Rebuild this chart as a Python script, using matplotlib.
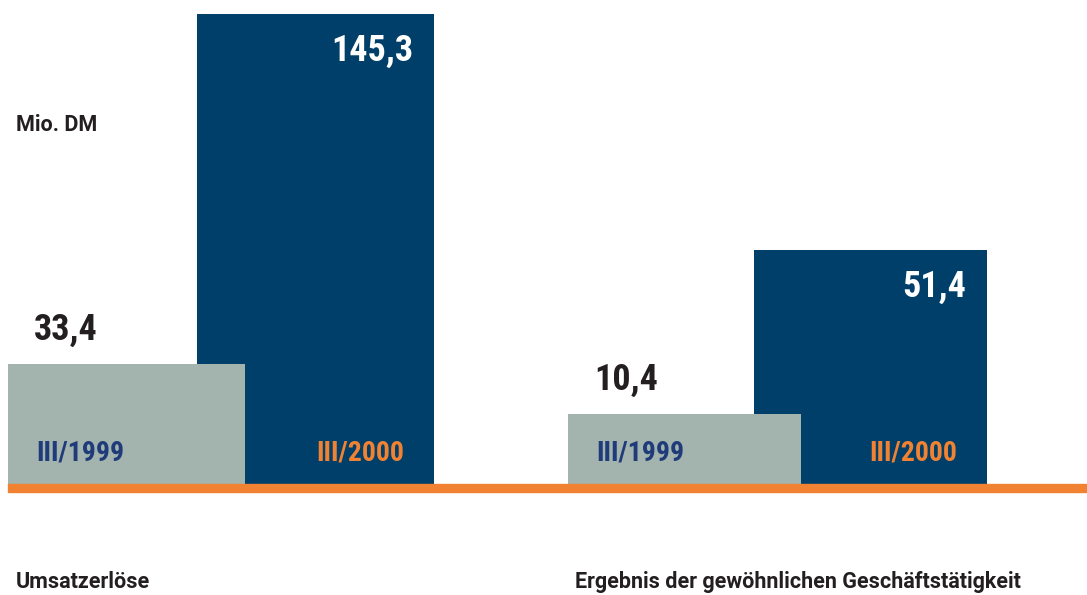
import matplotlib
matplotlib.use("Agg")
import matplotlib.pyplot as plt
from matplotlib.patches import Rectangle

# data
groups = ["Umsatzerlöse", "Ergebnis der gewöhnlichen Geschäftstätigkeit"]
periods = ["III/1999", "III/2000"]
values_1999 = [33.4, 10.4]
values_2000 = [145.3, 51.4]
unit = "Mio. DM"

# colours
grey = "#a3b3ae"
navy = "#003f69"
orange = "#f08232"
label_blue = "#1f3b7a"
dark = "#231f20"

plt.rcParams["font.family"] = ["Roboto Condensed", "DejaVu Sans"]
plt.rcParams["font.weight"] = "bold"
small_font = ["Roboto", "DejaVu Sans"]  # wider face stands in for the tracked small labels

W, H = 1087, 595
fig = plt.figure(figsize=(W / 100, H / 100), dpi=100)


def fx(x):
    return x / W


def fy(y):
    return 1 - y / H


base_px = 484
# axes per group: left px, right px, top px of tall bar, lower y-limit
layout = [(8, 434, 14, -4.96), (568, 987, 250, -7.1)]

for i, (l, r, top, y0) in enumerate(layout):
    ax = fig.add_axes([fx(l), fy(base_px), (r - l) / W, (base_px - top) / H])
    ax.bar(0.8, values_2000[i] - y0, bottom=y0, width=1.0, color=navy, zorder=1)
    ax.bar(0.0, values_1999[i] - y0, bottom=y0, width=1.0, color=grey, zorder=2)
    ax.set_xlim(-0.5, 1.3)
    ax.set_ylim(y0, values_2000[i])
    ax.axis("off")

    # value labels
    ax.annotate(f"{values_1999[i]:.1f}".replace(".", ","), xy=(-0.5, values_1999[i]),
                xytext=(26, 34), textcoords="offset pixels", ha="left", va="center",
                fontsize=26, fontweight="bold", color=dark, zorder=3)
    ax.annotate(f"{values_2000[i]:.1f}".replace(".", ","), xy=(1.3, values_2000[i]),
                xytext=(-21, -37), textcoords="offset pixels", ha="right", va="center",
                fontsize=26, fontweight="bold", color="white", zorder=3)

    # period labels
    ax.annotate(periods[0], xy=(-0.5, y0), xytext=(28, 31), textcoords="offset pixels",
                ha="left", va="center", fontsize=20, fontweight="bold", color=label_blue, zorder=3)
    ax.annotate(periods[1], xy=(1.3, y0), xytext=(-30, 31), textcoords="offset pixels",
                ha="right", va="center", fontsize=20, fontweight="bold", color=orange, zorder=3)

# orange baseline
fig.add_artist(Rectangle((fx(8), fy(492)), 1 - fx(8), 8 / H, transform=fig.transFigure,
                         color=orange, zorder=5))

fig.text(fx(16), fy(131), unit, ha="left", va="baseline", fontsize=15.5,
         fontweight="bold", color=dark, family=small_font)
fig.text(fx(16), fy(588), groups[0], ha="left", va="baseline", fontsize=15.5,
         fontweight="bold", color=dark, family=small_font)
fig.text(fx(575), fy(588), groups[1], ha="left", va="baseline", fontsize=15.5,
         fontweight="bold", color=dark, family=small_font)

fig.savefig("out.png", dpi=100)
